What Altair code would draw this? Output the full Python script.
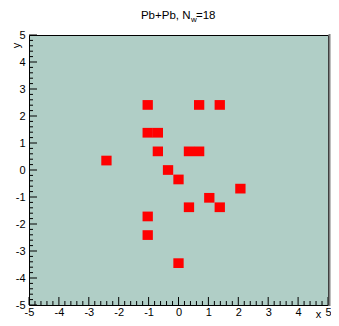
import altair as alt
import pandas as pd

# Red cells (bin centres)
xs = [-1.03, 0.69, 1.38, -1.03, -0.69, -0.69, 0.35, 0.69, -2.41, -0.35,
      0.0, 2.07, 1.03, 0.35, 1.38, -1.03, -1.03, 0.0]
ys = [2.41, 2.41, 2.41, 1.38, 1.38, 0.69, 0.69, 0.69, 0.35, 0.0,
      -0.35, -0.69, -1.03, -1.38, -1.38, -1.72, -2.41, -3.45]

tick_labels = [-5, -4, -3, -2, -1, 0, 1, 2, 3, 4, 5]
minor_ticks = [i / 5 for i in range(-25, 26) if i % 5 != 0]

title_main = "Pb+Pb, N"
title_sub = "w"
title_end = "=18"

W, H = 299, 270
FONT = "Liberation Sans"
BG = "#b0cec6"

df = pd.DataFrame({"x": xs, "y": ys})
major_df = pd.DataFrame({"v": tick_labels})
minor_df = pd.DataFrame({"v": minor_ticks})

sx = alt.Scale(domain=[-5, 5], nice=False, zero=False, padding=0)
sy = alt.Scale(domain=[-5, 5], nice=False, zero=False, padding=0)

x_axis = alt.Axis(
    values=tick_labels, ticks=False, domain=False, grid=False,
    labelExpr="'' + datum.value",
    labelFontSize=11, labelFont=FONT, labelColor="black", labelPadding=1,
    labelFlush=False, title="x", titleFont=FONT, titleFontSize=11,
    titleFontWeight="normal", titleX=289, titleY=12, titleColor="black",
    titleBaseline="alphabetic", titleAlign="center")
y_axis = alt.Axis(
    values=tick_labels, ticks=False, domain=False, grid=False,
    labelExpr="'' + datum.value",
    labelFontSize=11, labelFont=FONT, labelColor="black", labelPadding=4,
    labelFlush=False, title="y", titleFont=FONT, titleFontSize=11,
    titleFontWeight="normal", titleAngle=270, titleX=-10, titleY=10,
    titleColor="black", titleBaseline="alphabetic", titleAlign="center")

boxes = alt.Chart(df).transform_calculate(
    x0="datum.x - 0.1725", x1="datum.x + 0.1725",
    y0="datum.y - 0.18", y1="datum.y + 0.18",
).mark_rect(color="#ff0000").encode(
    x=alt.X("x0:Q", scale=sx, axis=x_axis),
    x2="x1:Q",
    y=alt.Y("y0:Q", scale=sy, axis=y_axis),
    y2="y1:Q",
)

def xticks(d, length):
    return alt.Chart(d).mark_rule(color="black", strokeWidth=1).encode(
        x=alt.X("v:Q", scale=sx, axis=x_axis),
        y=alt.value(H), y2=alt.value(H - length))

def yticks(d, length):
    return alt.Chart(d).mark_rule(color="black", strokeWidth=1).encode(
        y=alt.Y("v:Q", scale=sy, axis=y_axis),
        x=alt.value(0), x2=alt.value(length))

shadow = alt.Chart(major_df.head(1)).mark_rule(color="#7f7f7f", strokeWidth=2).encode(
    x=alt.value(W + 1.5), y=alt.value(-1), y2=alt.value(H + 1))

t1 = alt.Chart(pd.DataFrame({"t": [title_main]})).mark_text(
    align="right", baseline="alphabetic", fontSize=11.5, font=FONT, color="black"
).encode(text="t:N", x=alt.value(161.5), y=alt.value(-16))
t2 = alt.Chart(pd.DataFrame({"t": [title_sub]})).mark_text(
    align="left", baseline="alphabetic", fontSize=8, font=FONT, color="black"
).encode(text="t:N", x=alt.value(162), y=alt.value(-13))
t3 = alt.Chart(pd.DataFrame({"t": [title_end]})).mark_text(
    align="left", baseline="alphabetic", fontSize=11.5, font=FONT, color="black"
).encode(text="t:N", x=alt.value(167), y=alt.value(-16))

chart = alt.layer(
    boxes,
    xticks(major_df, 8), xticks(minor_df, 4),
    yticks(major_df, 8), yticks(minor_df, 4),
    shadow, t1, t2, t3,
).properties(
    width=W, height=H,
    padding={"left": 21, "top": 27, "right": 3, "bottom": 13},
    autosize=alt.AutoSizeParams(type="none"),
    background="white",
).configure_view(fill=BG, stroke="black", strokeWidth=1)

chart.save("out.html", embed_options={"renderer": "svg", "actions": False})
